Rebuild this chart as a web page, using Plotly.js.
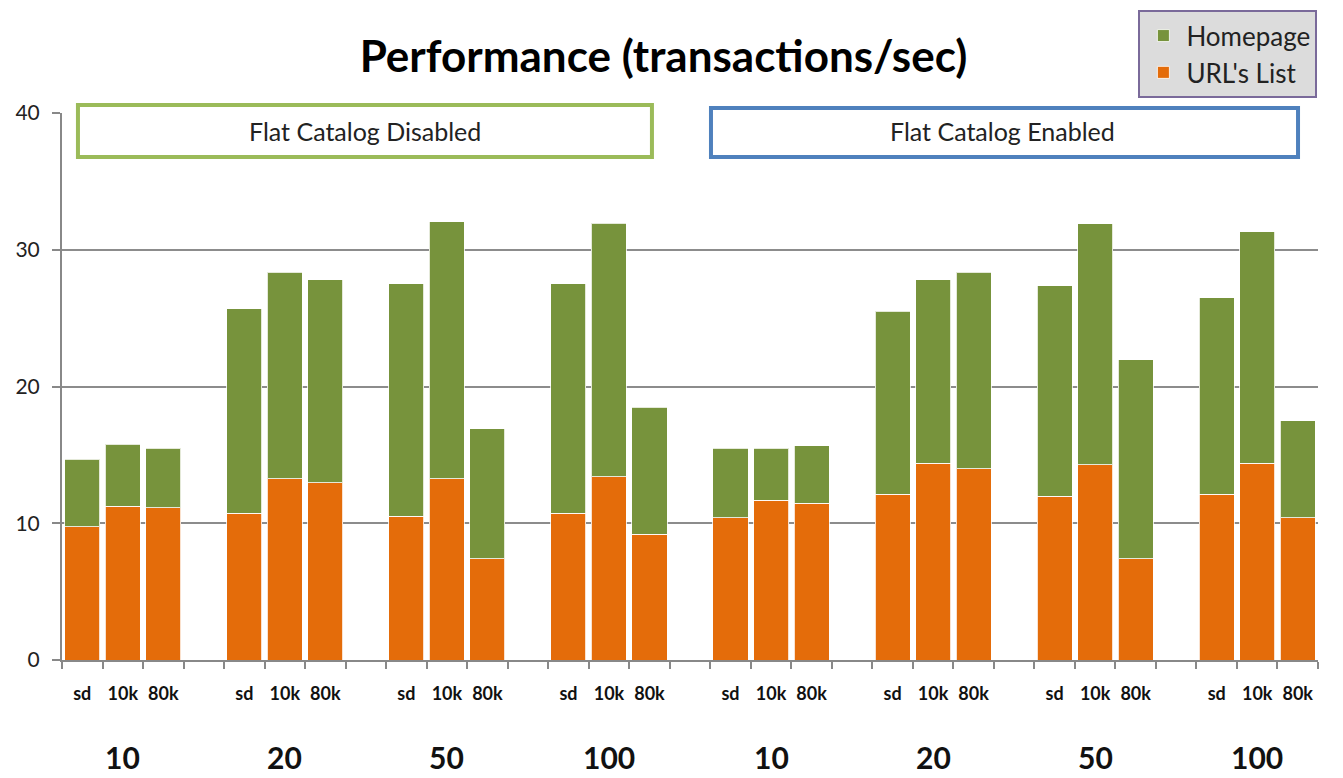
<!DOCTYPE html>
<html>
<head>
<meta charset="utf-8">
<script src="https://cdn.plot.ly/plotly-3.0.1.min.js"></script>
<style>html,body{margin:0;padding:0;background:#fff;}#chart{width:1343px;height:778px;}</style>
</head>
<body>
<div id="chart"></div>
<script>
// ---- data ----
const groupLabels = ["10", "20", "50", "100", "10", "20", "50", "100"];
const subLabels = ["sd", "10k", "80k"];
const urlList = [9.75, 11.26, 11.12, 10.73, 13.26, 12.97, 10.53, 13.26, 7.4, 10.73, 13.4, 9.19,
                 10.41, 11.7, 11.46, 12.12, 14.38, 13.99, 11.99, 14.26, 7.4, 12.12, 14.38, 10.41];
const homepage = [4.93, 4.51, 4.36, 14.96, 15.11, 14.82, 16.97, 18.79, 9.51, 16.77, 18.53, 9.29,
                  5.07, 3.78, 4.19, 13.40, 13.41, 14.38, 15.36, 17.64, 14.54, 14.38, 16.94, 7.07];
const sectionLabels = ["Flat Catalog Disabled", "Flat Catalog Enabled"];
const seriesNames = ["URL's List", "Homepage"];

// ---- positions: 3 bars per group + 1 empty slot ----
const slotsPerGroup = subLabels.length + 1;
const xs = [], tickText = [];
groupLabels.forEach((g, gi) => subLabels.forEach((s, si) => { xs.push(gi * slotsPerGroup + si); tickText.push(s); }));
const nSlots = groupLabels.length * slotsPerGroup - 1;
const boundaries = [];
for (let i = 0; i <= nSlots; i++) boundaries.push(i - 0.5);

const font = "Lato, 'Open Sans', sans-serif";
const traces = [
  { type: "bar", name: seriesNames[0], x: xs, y: urlList, legendgroup: "url", legendrank: 2,
    marker: { color: "#e46c0a", line: { color: "rgba(255,255,255,0.8)", width: 1 } } },
  { type: "bar", name: seriesNames[1], x: xs, y: homepage, legendgroup: "home", legendrank: 1,
    marker: { color: "#77933c", line: { color: "rgba(255,255,255,0.8)", width: 1 } } }
];

const annotations = groupLabels.map((g, gi) => ({
  x: gi * slotsPerGroup + 1, xref: "x", y: -0.178, yref: "paper",
  text: "<b>" + g + "</b>", showarrow: false, xanchor: "center", yanchor: "middle",
  font: { family: font, size: 30, color: "#111" }
}));
annotations.push(
  { x: 0.2412, y: 0.967, xref: "paper", yref: "paper", text: sectionLabels[0], showarrow: false,
    xanchor: "center", yanchor: "middle",
    font: { family: font, size: 25, color: "#222" } },
  { x: 0.749, y: 0.967, xref: "paper", yref: "paper", text: sectionLabels[1], showarrow: false,
    xanchor: "center", yanchor: "middle",
    font: { family: font, size: 25, color: "#222" } }
);

const shapes = [
  { type: "rect", xref: "paper", yref: "paper", x0: 0.0127, x1: 0.4697, y0: 0.9196, y1: 1.0146,
    line: { color: "#9bbb59", width: 4 }, fillcolor: "#ffffff", layer: "above" },
  { type: "rect", xref: "paper", yref: "paper", x0: 0.5167, x1: 0.9841, y0: 0.9196, y1: 1.0091,
    line: { color: "#4f81bd", width: 4 }, fillcolor: "#ffffff", layer: "above" }
];

const layout = {
  width: 1343, height: 778,
  margin: { l: 62, r: 25, t: 113, b: 118, autoexpand: false },
  paper_bgcolor: "#ffffff", plot_bgcolor: "#ffffff",
  barmode: "stack", bargap: 0.135,
  title: { text: "<b>Performance (transactions/sec)</b>", x: 0.494, xanchor: "center", y: 0.927, yanchor: "middle",
           font: { family: font, size: 44, color: "#000" } },
  xaxis: {
    range: [-0.5, nSlots - 0.5], tickmode: "array", tickvals: xs,
    ticktext: tickText.map(t => "<b>" + t + "</b>"), ticks: "",
    ticklabelstandoff: 16,
    tickfont: { family: font, size: 18, color: "#111" },
    showgrid: false, zeroline: false, showline: true, linecolor: "#888", linewidth: 2,
    minor: { tickmode: "array", tickvals: boundaries, ticks: "outside", ticklen: 7, tickcolor: "#888", tickwidth: 2, showgrid: false },
    fixedrange: true
  },
  yaxis: {
    range: [0, 40], tickvals: [0, 10, 20, 30, 40], ticks: "outside", ticklen: 8, tickcolor: "#888", tickwidth: 2,
    ticklabelstandoff: 8,
    tickfont: { family: font, size: 21, color: "#222" },
    showgrid: true, gridcolor: "#8c8c8c", gridwidth: 2, zeroline: false,
    showline: true, linecolor: "#888", linewidth: 2, fixedrange: true
  },
  legend: {
    x: 0.857, y: 1.188, xanchor: "left", yanchor: "top",
    bgcolor: "#dcdcdc", bordercolor: "#7a6a9a", borderwidth: 2,
    traceorder: "grouped", tracegroupgap: 0,
    font: { family: font, size: 26, color: "#222" }, itemwidth: 36
  },
  showlegend: true,
  annotations: annotations,
  shapes: shapes
};

Plotly.newPlot("chart", traces, layout, { displayModeBar: false, staticPlot: true });
</script>
</body>
</html>
